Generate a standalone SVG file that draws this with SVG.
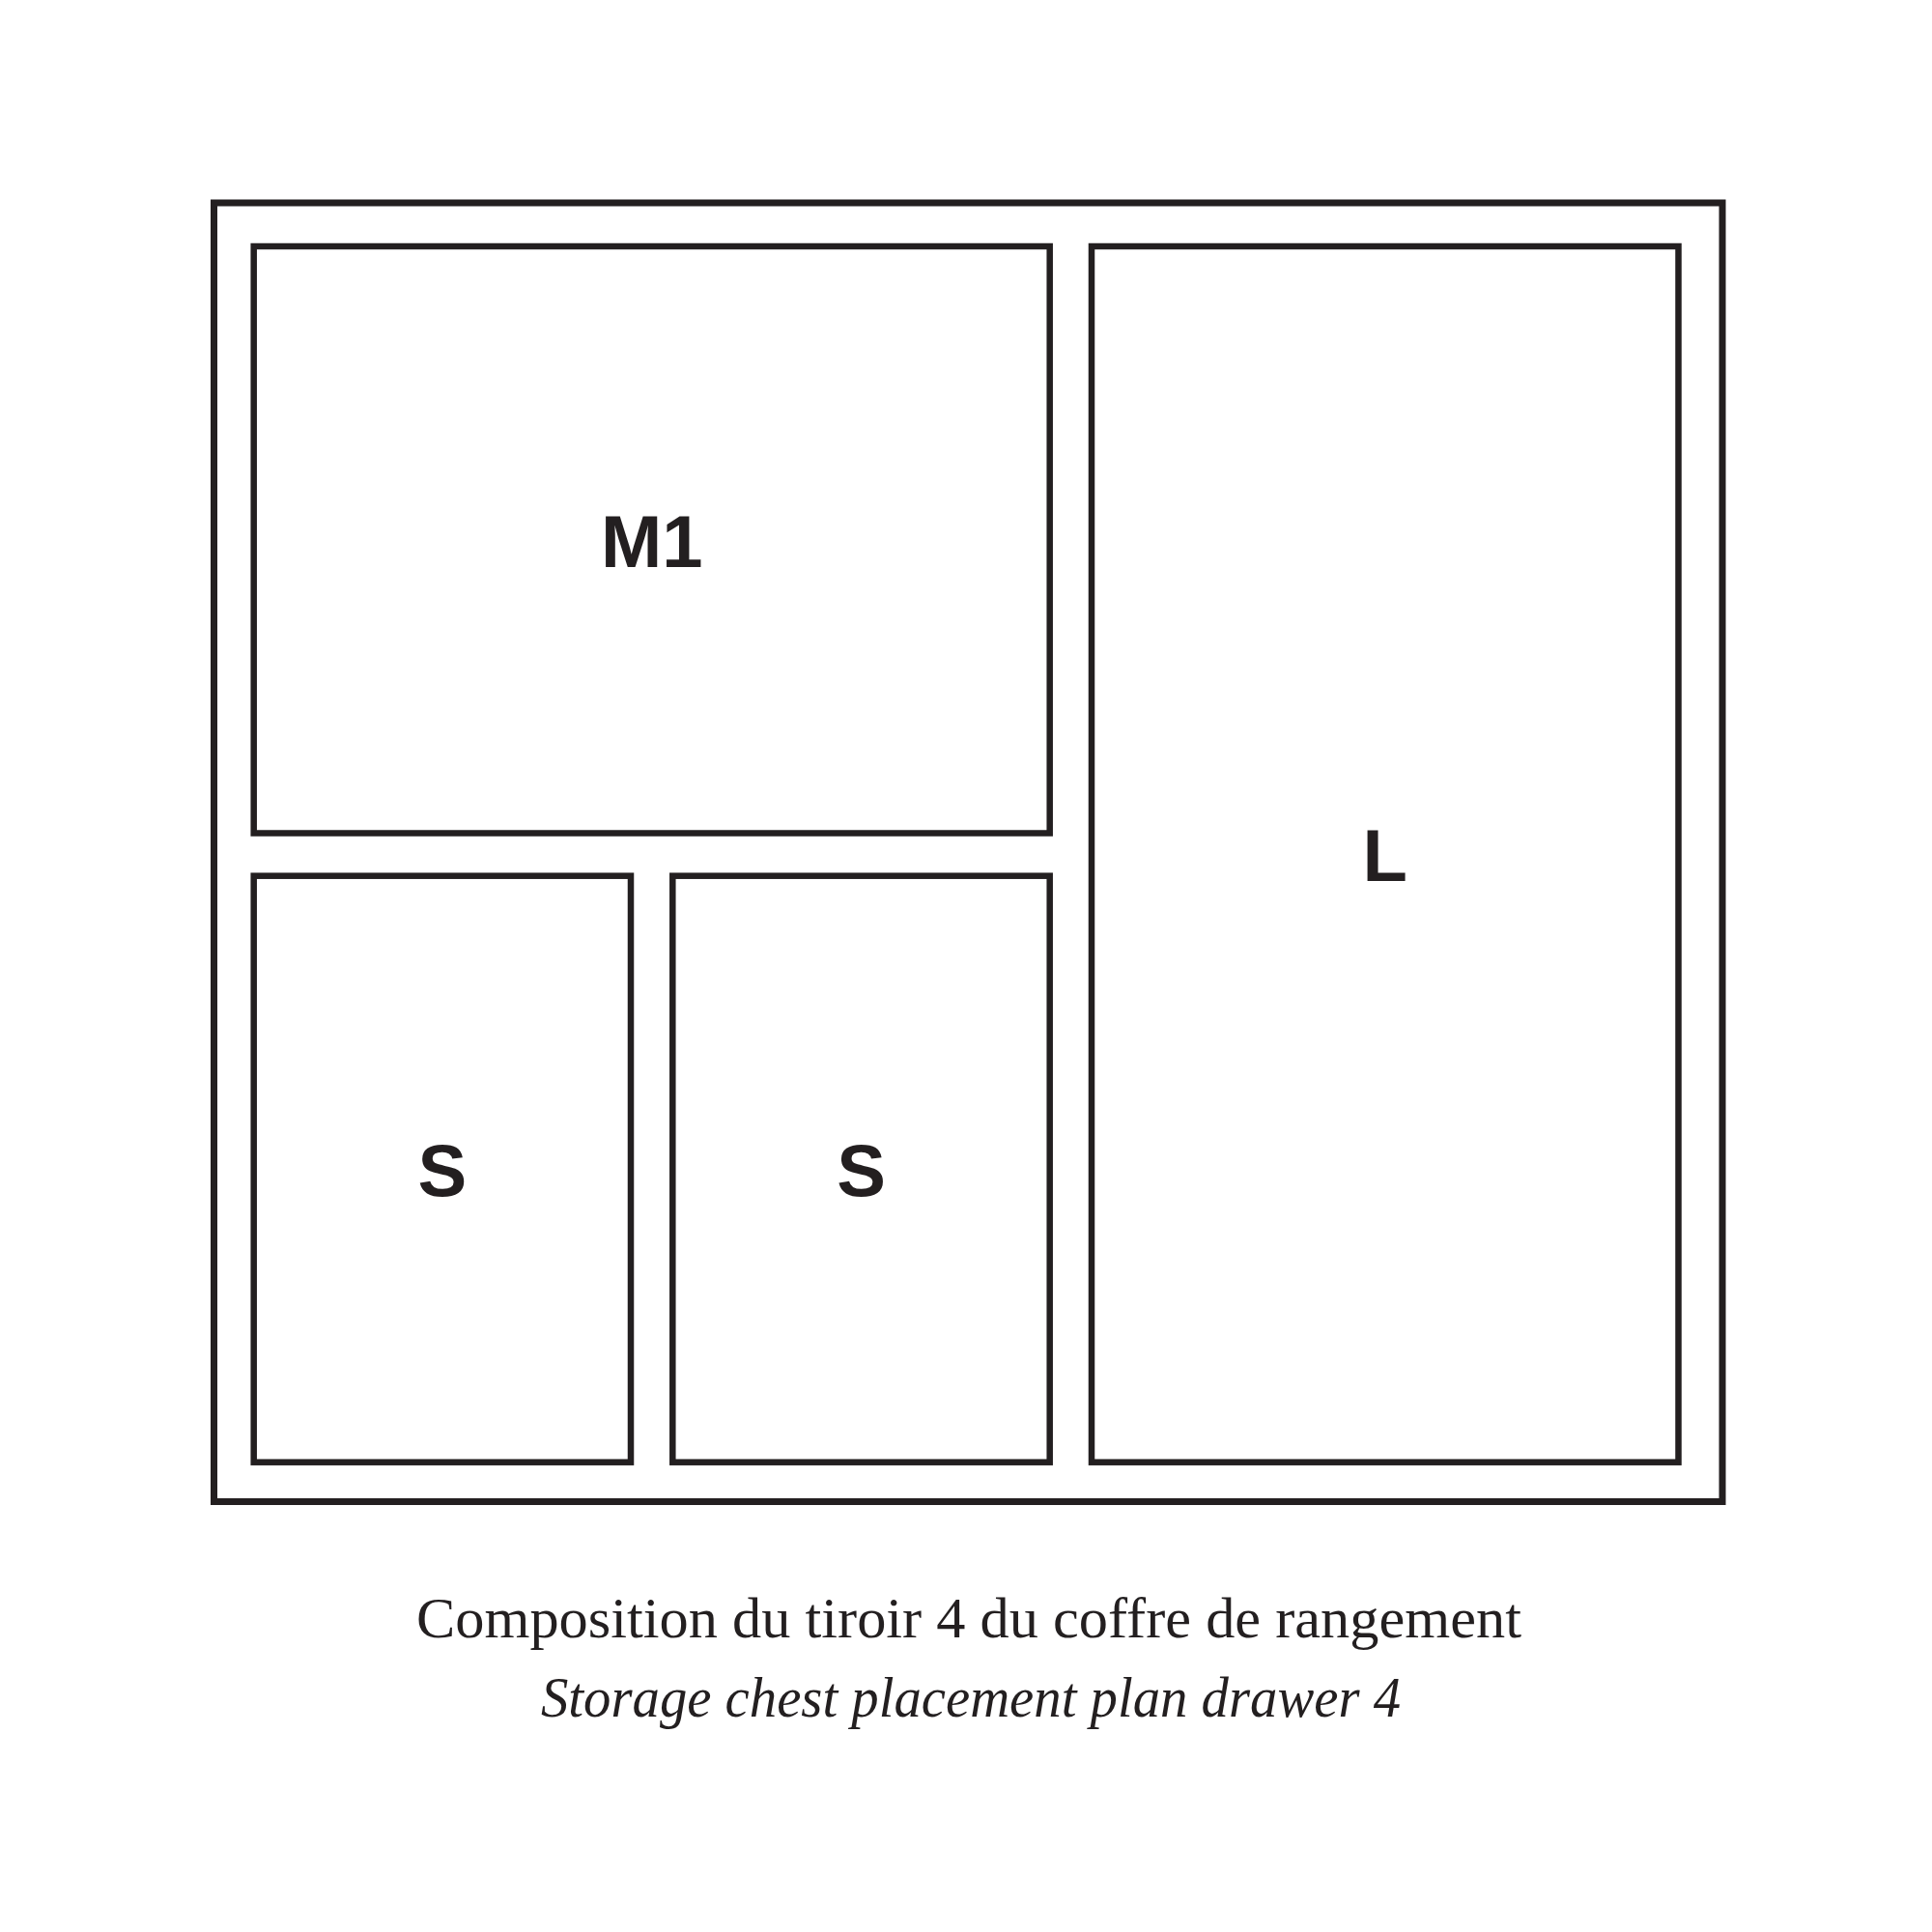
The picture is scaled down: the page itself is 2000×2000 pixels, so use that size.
<svg xmlns="http://www.w3.org/2000/svg" width="2000" height="2000" viewBox="0 0 2000 2000">
<style>
.frame{fill:none;stroke:#231f20;stroke-width:7}
.box{fill:none;stroke:#231f20;stroke-width:6.5}
.lbl{font-family:"Liberation Sans",Arial,sans-serif;font-weight:bold;font-size:76px;fill:#231f20;text-anchor:middle}
.cap{font-family:"Liberation Serif","Times New Roman",serif;font-size:60px;fill:#231f20}
</style>
<rect width="2000" height="2000" fill="#ffffff"/>
<g id="frame"><rect class="frame" x="221.5" y="210" width="1561.5" height="1344.5"/></g>
<g id="M1"><rect class="box" x="262.7" y="255" width="824" height="607.5"/><text class="lbl" x="674.7" y="586.5">M1</text></g>
<g id="L"><rect class="box" x="1130" y="255" width="607.5" height="1258.7"/><text class="lbl" x="1433.7" y="912">L</text></g>
<g id="S1"><rect class="box" x="262.7" y="906.7" width="390.3" height="607"/><text class="lbl" x="457.8" y="1238">S</text></g>
<g id="S2"><rect class="box" x="696.3" y="906.7" width="390.4" height="607"/><text class="lbl" x="891.5" y="1238">S</text></g>
<g id="connectors"/>
<g id="caption">
<text class="cap" x="431" y="1695" textLength="1144" lengthAdjust="spacingAndGlyphs">Composition du tiroir 4 du coffre de rangement</text>
<text class="cap" x="560" y="1777" font-style="italic" textLength="890" lengthAdjust="spacingAndGlyphs">Storage chest placement plan drawer 4</text>
</g>
</svg>
